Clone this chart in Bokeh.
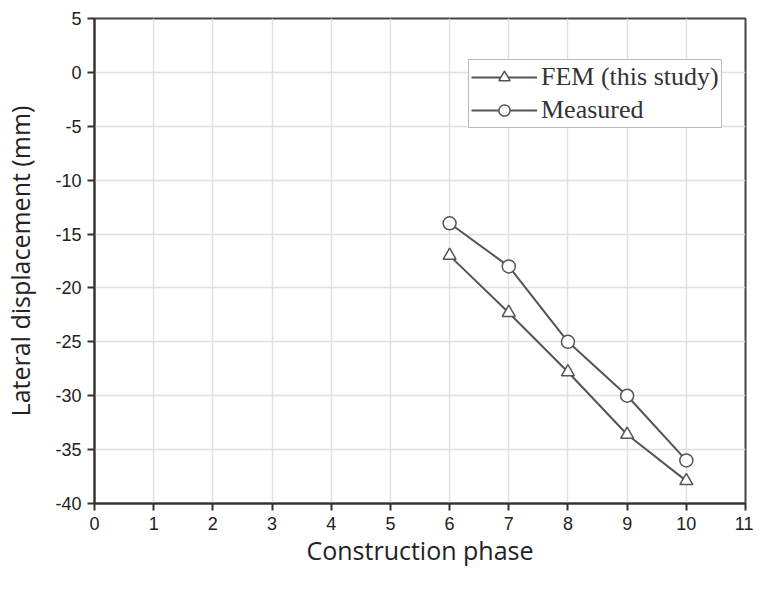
from bokeh.plotting import figure
from bokeh.models import Range1d, FixedTicker, Legend, LegendItem, PrintfTickFormatter
from bokeh.embed import file_html
from bokeh.resources import INLINE

phase = [6, 7, 8, 9, 10]
fem = [-17.0, -22.3, -27.8, -33.6, -37.9]
measured = [-14.0, -18.0, -25.0, -30.0, -36.0]
x_ticks = list(range(0, 12))
y_ticks = list(range(-40, 10, 5))

p = figure(width=753, height=589, output_backend="svg", toolbar_location=None,
           x_range=Range1d(0, 11), y_range=Range1d(-40, 5),
           min_border_left=93, min_border_right=8, min_border_top=18, min_border_bottom=86)

p.outline_line_color = "#444444"
p.outline_line_width = 2
p.background_fill_color = "white"
p.border_fill_color = "white"

for ax in (p.xaxis[0], p.yaxis[0]):
    ax.axis_line_color = "#333333"
    ax.axis_line_width = 2
    ax.major_tick_line_color = "#333333"
    ax.major_tick_line_width = 2
    ax.major_tick_out = 7
    ax.major_tick_in = 0
    ax.minor_tick_line_color = None
    ax.major_label_text_font = "Liberation Sans"
    ax.major_label_text_font_size = "18px"
    ax.major_label_text_color = "#222222"
    ax.axis_label_text_font = "Open Sans"
    ax.axis_label_text_font_size = "25px"
    ax.axis_label_text_font_style = "normal"
    ax.axis_label_text_color = "#222222"
    ax.formatter = PrintfTickFormatter(format="%d")

p.xaxis.ticker = FixedTicker(ticks=x_ticks)
p.yaxis.ticker = FixedTicker(ticks=y_ticks)
p.xaxis.axis_label = "Construction phase"
p.yaxis.axis_label = "Lateral displacement (mm)"
p.xaxis.axis_label_standoff = 0
p.yaxis.axis_label_standoff = 15
p.xaxis.major_label_standoff = 6
p.yaxis.major_label_standoff = 6

p.xgrid.grid_line_color = "#e0e0e0"
p.ygrid.grid_line_color = "#e0e0e0"
p.xgrid.grid_line_width = 1.5
p.ygrid.grid_line_width = 1.5

col = "#555555"
l1 = p.line(phase, fem, line_color=col, line_width=2)
s1 = p.scatter(phase, fem, marker="triangle", size=13, fill_color="white", line_color=col, line_width=1.5)
l2 = p.line(phase, measured, line_color=col, line_width=2)
s2 = p.scatter(phase, measured, marker="circle", size=13, fill_color="white", line_color=col, line_width=1.5)

legend = Legend(items=[LegendItem(label="FEM (this study)", renderers=[l1, s1]),
                       LegendItem(label="Measured", renderers=[l2, s2])],
                location=(374, 375))
legend.label_text_font = "Liberation Serif"
legend.label_text_font_size = "26px"
legend.label_text_color = "#333333"
legend.border_line_color = "#777777"
legend.border_line_width = 1.5
legend.glyph_width = 66
legend.glyph_height = 28
legend.padding = 2
legend.spacing = 3
legend.margin = 0
legend.label_standoff = 4
p.add_layout(legend)

open("out.html", "w").write(file_html(p, INLINE))
